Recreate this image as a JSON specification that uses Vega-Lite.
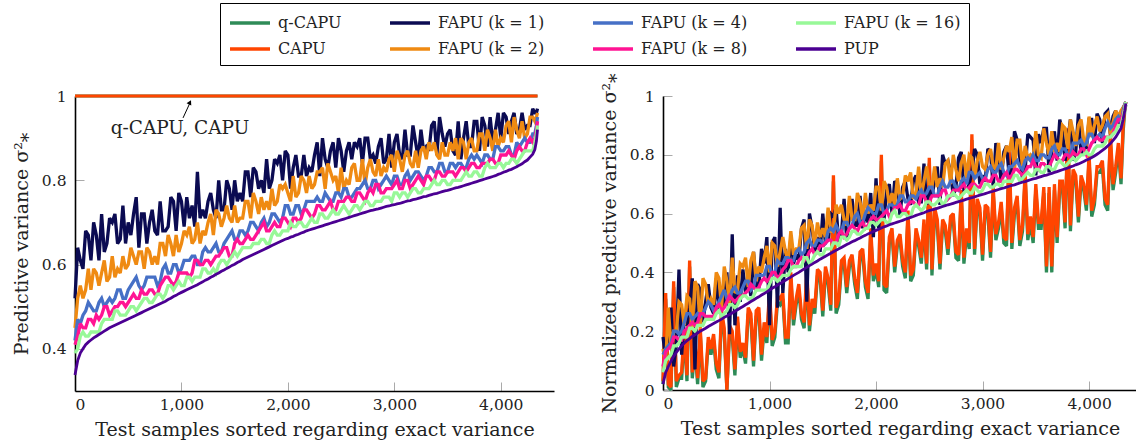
{
"$schema": "https://vega.github.io/schema/vega-lite/v6.json",
"padding": {"left": 12, "top": 2, "right": 0, "bottom": 0},
"spacing": 46,
"config": {
  "view": {"stroke": null},
  "font": "DejaVu Serif",
  "axis": {"domainColor": "black", "domainWidth": 1.6, "tickColor": "#aaaaaa", "tickWidth": 1, "tickSize": -9, "grid": false,
           "labelFont": "DejaVu Serif", "labelFontSize": 15.5, "labelColor": "#222222", "labelPadding": 18,
           "titleFont": "DejaVu Serif", "titleFontSize": 19, "titleFontWeight": "normal", "titleColor": "#222222"},
  "axisX": {"titlePadding": 8, "labelPadding": 15},
  "axisY": {"titlePadding": 10},
  "legend": {"orient": "none", "legendX": 145, "legendY": -93, "columns": 4, "title": null,
             "symbolType": "M-1,0H3", "symbolSize": 400, "symbolStrokeWidth": 3.5,
             "labelFont": "DejaVu Serif", "labelFontSize": 16, "labelColor": "#222222", "labelOffset": 26, "labelLimit": 300,
             "columnPadding": 41, "rowPadding": 6, "padding": 8, "strokeColor": "black"}
},
"datasets": {
"K": [{"x":0,"s":"Q","v":1},{"x":4345,"s":"Q","v":1},{"x":0,"s":"C","v":1},{"x":4345,"s":"C","v":1}],
"L": [
{"x":0,"P":0.338,"a":0.39,"b":0.41,"c":0.42,"d":0.45,"e":0.52},
{"x":25,"P":0.372,"a":0.40,"b":0.43,"c":0.47,"d":0.52,"e":0.64},
{"x":50,"P":0.39,"a":0.43,"b":0.46,"c":0.46,"d":0.55,"e":0.61},
{"x":100,"P":0.41,"a":0.43,"b":0.45,"c":0.49,"d":0.54,"e":0.68},
{"x":150,"P":0.421,"a":0.44,"b":0.47,"c":0.50,"d":0.54,"e":0.61},
{"x":200,"P":0.43,"a":0.44,"b":0.48,"c":0.49,"d":0.58,"e":0.67},
{"x":250,"P":0.438,"a":0.46,"b":0.48,"c":0.52,"d":0.58,"e":0.72},
{"x":300,"P":0.446,"a":0.47,"b":0.50,"c":0.51,"d":0.56,"e":0.65},
{"x":350,"P":0.453,"a":0.47,"b":0.49,"c":0.51,"d":0.62,"e":0.70},
{"x":400,"P":0.459,"a":0.49,"b":0.50,"c":0.54,"d":0.59,"e":0.65},
{"x":450,"P":0.465,"a":0.48,"b":0.51,"c":0.52,"d":0.62,"e":0.74},
{"x":500,"P":0.471,"a":0.49,"b":0.51,"c":0.54,"d":0.60,"e":0.70},
{"x":550,"P":0.477,"a":0.50,"b":0.53,"c":0.56,"d":0.62,"e":0.72},
{"x":600,"P":0.483,"a":0.50,"b":0.52,"c":0.55,"d":0.63,"e":0.64},
{"x":650,"P":0.489,"a":0.52,"b":0.53,"c":0.55,"d":0.59,"e":0.72},
{"x":700,"P":0.495,"a":0.51,"b":0.54,"c":0.57,"d":0.63,"e":0.70},
{"x":750,"P":0.501,"a":0.52,"b":0.53,"c":0.57,"d":0.62,"e":0.68},
{"x":800,"P":0.507,"a":0.53,"b":0.55,"c":0.56,"d":0.65,"e":0.75},
{"x":850,"P":0.513,"a":0.53,"b":0.57,"c":0.60,"d":0.62,"e":0.68},
{"x":900,"P":0.52,"a":0.55,"b":0.56,"c":0.58,"d":0.65,"e":0.76},
{"x":950,"P":0.527,"a":0.55,"b":0.56,"c":0.60,"d":0.67,"e":0.68},
{"x":1000,"P":0.534,"a":0.55,"b":0.58,"c":0.59,"d":0.65,"e":0.75},
{"x":1050,"P":0.54,"a":0.57,"b":0.58,"c":0.61,"d":0.67,"e":0.76},
{"x":1100,"P":0.546,"a":0.56,"b":0.58,"c":0.62,"d":0.65,"e":0.74},
{"x":1150,"P":0.552,"a":0.57,"b":0.61,"c":0.60,"d":0.70,"e":0.82},
{"x":1200,"P":0.559,"a":0.59,"b":0.60,"c":0.63,"d":0.68,"e":0.73},
{"x":1250,"P":0.566,"a":0.58,"b":0.61,"c":0.63,"d":0.70,"e":0.75},
{"x":1300,"P":0.573,"a":0.59,"b":0.61,"c":0.64,"d":0.67,"e":0.73},
{"x":1350,"P":0.58,"a":0.60,"b":0.62,"c":0.63,"d":0.72,"e":0.80},
{"x":1400,"P":0.587,"a":0.61,"b":0.64,"c":0.65,"d":0.71,"e":0.73},
{"x":1450,"P":0.594,"a":0.61,"b":0.62,"c":0.67,"d":0.71,"e":0.78},
{"x":1500,"P":0.601,"a":0.63,"b":0.65,"c":0.66,"d":0.74,"e":0.80},
{"x":1550,"P":0.608,"a":0.63,"b":0.65,"c":0.68,"d":0.71,"e":0.77},
{"x":1600,"P":0.615,"a":0.64,"b":0.66,"c":0.67,"d":0.75,"e":0.82},
{"x":1650,"P":0.621,"a":0.64,"b":0.66,"c":0.70,"d":0.71,"e":0.76},
{"x":1700,"P":0.627,"a":0.65,"b":0.67,"c":0.69,"d":0.75,"e":0.82},
{"x":1750,"P":0.633,"a":0.66,"b":0.69,"c":0.70,"d":0.76,"e":0.80},
{"x":1800,"P":0.639,"a":0.65,"b":0.68,"c":0.69,"d":0.75,"e":0.85},
{"x":1850,"P":0.645,"a":0.67,"b":0.69,"c":0.72,"d":0.78,"e":0.80},
{"x":1900,"P":0.651,"a":0.67,"b":0.69,"c":0.71,"d":0.75,"e":0.84},
{"x":1950,"P":0.657,"a":0.68,"b":0.71,"c":0.71,"d":0.78,"e":0.80},
{"x":2000,"P":0.662,"a":0.68,"b":0.70,"c":0.74,"d":0.77,"e":0.86},
{"x":2050,"P":0.667,"a":0.69,"b":0.71,"c":0.72,"d":0.81,"e":0.83},
{"x":2100,"P":0.672,"a":0.70,"b":0.70,"c":0.74,"d":0.77,"e":0.81},
{"x":2150,"P":0.677,"a":0.69,"b":0.73,"c":0.73,"d":0.80,"e":0.86},
{"x":2200,"P":0.682,"a":0.70,"b":0.72,"c":0.75,"d":0.81,"e":0.83},
{"x":2250,"P":0.686,"a":0.70,"b":0.72,"c":0.75,"d":0.79,"e":0.86},
{"x":2300,"P":0.69,"a":0.72,"b":0.74,"c":0.75,"d":0.82,"e":0.81},
{"x":2350,"P":0.694,"a":0.71,"b":0.73,"c":0.77,"d":0.78,"e":0.85},
{"x":2400,"P":0.698,"a":0.72,"b":0.75,"c":0.75,"d":0.82,"e":0.87},
{"x":2450,"P":0.702,"a":0.72,"b":0.73,"c":0.77,"d":0.81,"e":0.83},
{"x":2500,"P":0.706,"a":0.73,"b":0.75,"c":0.76,"d":0.83,"e":0.87},
{"x":2550,"P":0.71,"a":0.73,"b":0.76,"c":0.78,"d":0.80,"e":0.87},
{"x":2600,"P":0.714,"a":0.73,"b":0.75,"c":0.76,"d":0.83,"e":0.85},
{"x":2650,"P":0.718,"a":0.74,"b":0.77,"c":0.78,"d":0.80,"e":0.88},
{"x":2700,"P":0.722,"a":0.74,"b":0.76,"c":0.79,"d":0.85,"e":0.84},
{"x":2750,"P":0.726,"a":0.75,"b":0.77,"c":0.78,"d":0.83,"e":0.90},
{"x":2800,"P":0.729,"a":0.74,"b":0.77,"c":0.80,"d":0.82,"e":0.86},
{"x":2850,"P":0.732,"a":0.75,"b":0.79,"c":0.78,"d":0.85,"e":0.88},
{"x":2900,"P":0.736,"a":0.76,"b":0.77,"c":0.80,"d":0.83,"e":0.84},
{"x":2950,"P":0.739,"a":0.76,"b":0.78,"c":0.80,"d":0.85,"e":0.91},
{"x":3000,"P":0.742,"a":0.77,"b":0.79,"c":0.81,"d":0.82,"e":0.89},
{"x":3050,"P":0.745,"a":0.76,"b":0.78,"c":0.79,"d":0.85,"e":0.86},
{"x":3100,"P":0.749,"a":0.77,"b":0.80,"c":0.81,"d":0.86,"e":0.92},
{"x":3150,"P":0.752,"a":0.77,"b":0.78,"c":0.80,"d":0.84,"e":0.86},
{"x":3200,"P":0.755,"a":0.78,"b":0.80,"c":0.82,"d":0.87,"e":0.89},
{"x":3250,"P":0.759,"a":0.77,"b":0.80,"c":0.81,"d":0.87,"e":0.92},
{"x":3300,"P":0.762,"a":0.78,"b":0.81,"c":0.81,"d":0.85,"e":0.88},
{"x":3350,"P":0.766,"a":0.79,"b":0.80,"c":0.83,"d":0.87,"e":0.93},
{"x":3400,"P":0.769,"a":0.79,"b":0.82,"c":0.82,"d":0.86,"e":0.86},
{"x":3450,"P":0.773,"a":0.80,"b":0.81,"c":0.84,"d":0.89,"e":0.91},
{"x":3500,"P":0.776,"a":0.79,"b":0.82,"c":0.82,"d":0.86,"e":0.91},
{"x":3550,"P":0.78,"a":0.80,"b":0.82,"c":0.84,"d":0.87,"e":0.87},
{"x":3600,"P":0.783,"a":0.80,"b":0.82,"c":0.84,"d":0.85,"e":0.94},
{"x":3650,"P":0.787,"a":0.81,"b":0.83,"c":0.83,"d":0.89,"e":0.90},
{"x":3700,"P":0.791,"a":0.81,"b":0.83,"c":0.85,"d":0.89,"e":0.88},
{"x":3750,"P":0.795,"a":0.82,"b":0.84,"c":0.85,"d":0.87,"e":0.94},
{"x":3800,"P":0.799,"a":0.81,"b":0.83,"c":0.85,"d":0.91,"e":0.87},
{"x":3850,"P":0.803,"a":0.83,"b":0.84,"c":0.86,"d":0.87,"e":0.93},
{"x":3900,"P":0.807,"a":0.83,"b":0.85,"c":0.85,"d":0.90,"e":0.95},
{"x":3950,"P":0.811,"a":0.83,"b":0.84,"c":0.88,"d":0.92,"e":0.92},
{"x":4000,"P":0.816,"a":0.84,"b":0.86,"c":0.87,"d":0.90,"e":0.90},
{"x":4050,"P":0.821,"a":0.84,"b":0.86,"c":0.88,"d":0.93,"e":0.95},
{"x":4100,"P":0.826,"a":0.85,"b":0.86,"c":0.86,"d":0.89,"e":0.94},
{"x":4150,"P":0.832,"a":0.84,"b":0.87,"c":0.89,"d":0.92,"e":0.91},
{"x":4200,"P":0.839,"a":0.86,"b":0.87,"c":0.89,"d":0.94,"e":0.96},
{"x":4250,"P":0.848,"a":0.87,"b":0.89,"c":0.89,"d":0.91,"e":0.93},
{"x":4300,"P":0.862,"a":0.87,"b":0.89,"c":0.91,"d":0.95,"e":0.97},
{"x":4320,"P":0.873,"a":0.89,"b":0.90,"c":0.91,"d":0.94,"e":0.96},
{"x":4335,"P":0.893,"a":0.91,"b":0.92,"c":0.93,"d":0.95,"e":0.96},
{"x":4345,"P":0.92,"a":0.93,"b":0.94,"c":0.95,"d":0.96,"e":0.97},
{"x":75,"P":0.40,"a":0.44,"b":0.45,"c":0.48,"d":0.52,"e":0.59},
{"x":125,"P":0.416,"a":0.43,"b":0.47,"c":0.51,"d":0.59,"e":0.67},
{"x":175,"P":0.426,"a":0.44,"b":0.46,"c":0.49,"d":0.59,"e":0.70},
{"x":225,"P":0.434,"a":0.44,"b":0.47,"c":0.51,"d":0.55,"e":0.61},
{"x":275,"P":0.442,"a":0.47,"b":0.50,"c":0.50,"d":0.61,"e":0.63},
{"x":325,"P":0.45,"a":0.47,"b":0.48,"c":0.52,"d":0.57,"e":0.71},
{"x":375,"P":0.456,"a":0.49,"b":0.50,"c":0.52,"d":0.57,"e":0.72},
{"x":425,"P":0.462,"a":0.48,"b":0.51,"c":0.54,"d":0.58,"e":0.66},
{"x":475,"P":0.468,"a":0.48,"b":0.50,"c":0.52,"d":0.59,"e":0.65},
{"x":525,"P":0.474,"a":0.50,"b":0.52,"c":0.55,"d":0.64,"e":0.67},
{"x":575,"P":0.48,"a":0.49,"b":0.52,"c":0.57,"d":0.60,"e":0.76},
{"x":625,"P":0.486,"a":0.51,"b":0.54,"c":0.54,"d":0.63,"e":0.72},
{"x":675,"P":0.492,"a":0.52,"b":0.53,"c":0.57,"d":0.64,"e":0.65},
{"x":725,"P":0.498,"a":0.51,"b":0.54,"c":0.57,"d":0.60,"e":0.73},
{"x":775,"P":0.504,"a":0.53,"b":0.53,"c":0.55,"d":0.60,"e":0.67},
{"x":825,"P":0.51,"a":0.52,"b":0.56,"c":0.59,"d":0.65,"e":0.68},
{"x":875,"P":0.517,"a":0.55,"b":0.57,"c":0.58,"d":0.67,"e":0.69},
{"x":925,"P":0.524,"a":0.54,"b":0.55,"c":0.60,"d":0.62,"e":0.75},
{"x":975,"P":0.531,"a":0.56,"b":0.58,"c":0.58,"d":0.63,"e":0.77},
{"x":1025,"P":0.537,"a":0.55,"b":0.58,"c":0.61,"d":0.68,"e":0.69},
{"x":1075,"P":0.543,"a":0.57,"b":0.57,"c":0.61,"d":0.69,"e":0.71},
{"x":1125,"P":0.549,"a":0.57,"b":0.61,"c":0.62,"d":0.66,"e":0.69},
{"x":1175,"P":0.556,"a":0.57,"b":0.60,"c":0.60,"d":0.65,"e":0.71},
{"x":1225,"P":0.563,"a":0.59,"b":0.61,"c":0.64,"d":0.67,"e":0.71},
{"x":1275,"P":0.57,"a":0.58,"b":0.60,"c":0.63,"d":0.72,"e":0.77},
{"x":1325,"P":0.577,"a":0.58,"b":0.62,"c":0.65,"d":0.73,"e":0.71},
{"x":1375,"P":0.584,"a":0.61,"b":0.63,"c":0.63,"d":0.69,"e":0.73},
{"x":1425,"P":0.591,"a":0.60,"b":0.64,"c":0.66,"d":0.74,"e":0.80},
{"x":1475,"P":0.598,"a":0.62,"b":0.62,"c":0.68,"d":0.70,"e":0.73},
{"x":1525,"P":0.605,"a":0.62,"b":0.66,"c":0.66,"d":0.70,"e":0.75},
{"x":1575,"P":0.612,"a":0.64,"b":0.65,"c":0.68,"d":0.71,"e":0.75},
{"x":1625,"P":0.618,"a":0.64,"b":0.67,"c":0.68,"d":0.75,"e":0.82},
{"x":1675,"P":0.624,"a":0.65,"b":0.66,"c":0.70,"d":0.77,"e":0.83},
{"x":1725,"P":0.63,"a":0.65,"b":0.68,"c":0.68,"d":0.72,"e":0.78},
{"x":1775,"P":0.636,"a":0.66,"b":0.70,"c":0.71,"d":0.73,"e":0.77},
{"x":1825,"P":0.642,"a":0.65,"b":0.68,"c":0.70,"d":0.73,"e":0.78},
{"x":1875,"P":0.648,"a":0.68,"b":0.70,"c":0.72,"d":0.74,"e":0.85},
{"x":1925,"P":0.654,"a":0.67,"b":0.69,"c":0.70,"d":0.79,"e":0.86},
{"x":1975,"P":0.66,"a":0.68,"b":0.71,"c":0.74,"d":0.79,"e":0.87},
{"x":2025,"P":0.665,"a":0.70,"b":0.69,"c":0.72,"d":0.75,"e":0.78},
{"x":2075,"P":0.67,"a":0.69,"b":0.71,"c":0.74,"d":0.76,"e":0.86},
{"x":2125,"P":0.675,"a":0.70,"b":0.71,"c":0.72,"d":0.81,"e":0.81},
{"x":2175,"P":0.68,"a":0.69,"b":0.73,"c":0.75,"d":0.77,"e":0.81},
{"x":2225,"P":0.684,"a":0.71,"b":0.71,"c":0.75,"d":0.78,"e":0.82},
{"x":2275,"P":0.688,"a":0.70,"b":0.74,"c":0.76,"d":0.82,"e":0.89},
{"x":2325,"P":0.692,"a":0.72,"b":0.73,"c":0.75,"d":0.83,"e":0.90},
{"x":2375,"P":0.696,"a":0.71,"b":0.74,"c":0.76,"d":0.84,"e":0.83},
{"x":2425,"P":0.70,"a":0.73,"b":0.73,"c":0.75,"d":0.80,"e":0.89},
{"x":2475,"P":0.704,"a":0.72,"b":0.75,"c":0.77,"d":0.77,"e":0.90},
{"x":2525,"P":0.708,"a":0.74,"b":0.75,"c":0.78,"d":0.78,"e":0.82},
{"x":2575,"P":0.712,"a":0.72,"b":0.76,"c":0.76,"d":0.79,"e":0.89},
{"x":2625,"P":0.716,"a":0.74,"b":0.75,"c":0.77,"d":0.84,"e":0.89},
{"x":2675,"P":0.72,"a":0.73,"b":0.77,"c":0.78,"d":0.80,"e":0.90},
{"x":2725,"P":0.724,"a":0.75,"b":0.75,"c":0.80,"d":0.79,"e":0.90},
{"x":2775,"P":0.728,"a":0.74,"b":0.78,"c":0.78,"d":0.85,"e":0.85},
{"x":2825,"P":0.731,"a":0.75,"b":0.79,"c":0.80,"d":0.81,"e":0.84},
{"x":2875,"P":0.734,"a":0.75,"b":0.77,"c":0.79,"d":0.81,"e":0.90},
{"x":2925,"P":0.738,"a":0.76,"b":0.78,"c":0.81,"d":0.82,"e":0.85},
{"x":2975,"P":0.741,"a":0.75,"b":0.78,"c":0.79,"d":0.86,"e":0.83},
{"x":3025,"P":0.744,"a":0.77,"b":0.80,"c":0.81,"d":0.87,"e":0.91},
{"x":3075,"P":0.747,"a":0.77,"b":0.78,"c":0.79,"d":0.82,"e":0.85},
{"x":3125,"P":0.751,"a":0.76,"b":0.80,"c":0.82,"d":0.87,"e":0.86},
{"x":3175,"P":0.754,"a":0.78,"b":0.79,"c":0.81,"d":0.83,"e":0.93},
{"x":3225,"P":0.757,"a":0.77,"b":0.81,"c":0.82,"d":0.83,"e":0.85},
{"x":3275,"P":0.761,"a":0.78,"b":0.79,"c":0.80,"d":0.88,"e":0.87},
{"x":3325,"P":0.764,"a":0.78,"b":0.81,"c":0.83,"d":0.89,"e":0.87},
{"x":3375,"P":0.768,"a":0.80,"b":0.80,"c":0.82,"d":0.89,"e":0.94},
{"x":3425,"P":0.771,"a":0.79,"b":0.82,"c":0.84,"d":0.85,"e":0.95},
{"x":3475,"P":0.775,"a":0.80,"b":0.81,"c":0.82,"d":0.86,"e":0.88},
{"x":3525,"P":0.778,"a":0.79,"b":0.82,"c":0.84,"d":0.89,"e":0.92},
{"x":3575,"P":0.782,"a":0.80,"b":0.81,"c":0.83,"d":0.90,"e":0.86},
{"x":3625,"P":0.785,"a":0.80,"b":0.83,"c":0.84,"d":0.90,"e":0.85},
{"x":3675,"P":0.789,"a":0.82,"b":0.82,"c":0.83,"d":0.85,"e":0.94},
{"x":3725,"P":0.793,"a":0.81,"b":0.84,"c":0.86,"d":0.90,"e":0.88},
{"x":3775,"P":0.797,"a":0.82,"b":0.83,"c":0.86,"d":0.87,"e":0.94},
{"x":3825,"P":0.801,"a":0.81,"b":0.84,"c":0.84,"d":0.91,"e":0.95},
{"x":3875,"P":0.805,"a":0.84,"b":0.84,"c":0.86,"d":0.92,"e":0.88},
{"x":3925,"P":0.809,"a":0.83,"b":0.85,"c":0.85,"d":0.87,"e":0.89},
{"x":3975,"P":0.814,"a":0.84,"b":0.84,"c":0.88,"d":0.88,"e":0.96},
{"x":4025,"P":0.819,"a":0.83,"b":0.86,"c":0.87,"d":0.89,"e":0.96},
{"x":4075,"P":0.824,"a":0.84,"b":0.87,"c":0.88,"d":0.94,"e":0.91},
{"x":4125,"P":0.829,"a":0.85,"b":0.85,"c":0.86,"d":0.95,"e":0.96},
{"x":4175,"P":0.836,"a":0.85,"b":0.88,"c":0.88,"d":0.90,"e":0.92},
{"x":4225,"P":0.844,"a":0.87,"b":0.87,"c":0.90,"d":0.90,"e":0.92},
{"x":4275,"P":0.855,"a":0.87,"b":0.90,"c":0.89,"d":0.95,"e":0.93}
],
"R": [
{"x":0,"P":0.02,"a":0.06,"b":0.08,"c":0.12,"d":0.14,"e":0.18,"C":0.03,"Q":0.02},
{"x":25,"P":0.06,"a":0.10,"b":0.13,"c":0.14,"d":0.09,"e":0.11,"C":0.33,"Q":0.31},
{"x":50,"P":0.08,"a":0.11,"b":0.14,"c":0.15,"d":0.28,"e":0.20,"C":0.02,"Q":0.01},
{"x":100,"P":0.115,"a":0.15,"b":0.18,"c":0.20,"d":0.20,"e":0.08,"C":0.37,"Q":0.35},
{"x":150,"P":0.14,"a":0.16,"b":0.17,"c":0.19,"d":0.30,"e":0.41,"C":0.05,"Q":0.04},
{"x":200,"P":0.16,"a":0.18,"b":0.20,"c":0.23,"d":0.22,"e":0.24,"C":0.21,"Q":0.19},
{"x":250,"P":0.175,"a":0.21,"b":0.22,"c":0.26,"d":0.31,"e":0.28,"C":0.44,"Q":0.42},
{"x":300,"P":0.188,"a":0.20,"b":0.22,"c":0.25,"d":0.37,"e":0.07,"C":0.16,"Q":0.14},
{"x":350,"P":0.20,"a":0.22,"b":0.26,"c":0.25,"d":0.21,"e":0.34,"C":0.21,"Q":0.19},
{"x":400,"P":0.21,"a":0.24,"b":0.25,"c":0.28,"d":0.36,"e":0.30,"C":0.04,"Q":0.03},
{"x":450,"P":0.221,"a":0.24,"b":0.25,"c":0.29,"d":0.31,"e":0.28,"C":0.14,"Q":0.12},
{"x":500,"P":0.231,"a":0.26,"b":0.28,"c":0.28,"d":0.40,"e":0.38,"C":0.09,"Q":0.07},
{"x":550,"P":0.241,"a":0.25,"b":0.27,"c":0.32,"d":0.28,"e":0.29,"C":0.27,"Q":0.25},
{"x":600,"P":0.252,"a":0.27,"b":0.30,"c":0.31,"d":0.37,"e":0.40,"C":0.0,"Q":0.0},
{"x":650,"P":0.262,"a":0.29,"b":0.31,"c":0.34,"d":0.45,"e":0.53,"C":0.20,"Q":0.18},
{"x":700,"P":0.273,"a":0.29,"b":0.31,"c":0.33,"d":0.34,"e":0.39,"C":0.25,"Q":0.23},
{"x":750,"P":0.284,"a":0.32,"b":0.32,"c":0.35,"d":0.42,"e":0.41,"C":0.16,"Q":0.14},
{"x":800,"P":0.295,"a":0.31,"b":0.34,"c":0.37,"d":0.35,"e":0.37,"C":0.28,"Q":0.26},
{"x":850,"P":0.306,"a":0.32,"b":0.35,"c":0.35,"d":0.47,"e":0.47,"C":0.10,"Q":0.08},
{"x":900,"P":0.317,"a":0.34,"b":0.35,"c":0.39,"d":0.42,"e":0.35,"C":0.28,"Q":0.26},
{"x":950,"P":0.328,"a":0.34,"b":0.38,"c":0.39,"d":0.45,"e":0.43,"C":0.23,"Q":0.21},
{"x":1000,"P":0.34,"a":0.36,"b":0.38,"c":0.42,"d":0.40,"e":0.22,"C":0.34,"Q":0.32},
{"x":1050,"P":0.351,"a":0.38,"b":0.40,"c":0.40,"d":0.49,"e":0.52,"C":0.20,"Q":0.18},
{"x":1100,"P":0.362,"a":0.38,"b":0.39,"c":0.43,"d":0.47,"e":0.62,"C":0.31,"Q":0.29},
{"x":1150,"P":0.373,"a":0.39,"b":0.42,"c":0.45,"d":0.47,"e":0.48,"C":0.18,"Q":0.16},
{"x":1200,"P":0.384,"a":0.41,"b":0.44,"c":0.44,"d":0.54,"e":0.52,"C":0.40,"Q":0.38},
{"x":1250,"P":0.395,"a":0.42,"b":0.42,"c":0.47,"d":0.48,"e":0.46,"C":0.31,"Q":0.29},
{"x":1300,"P":0.406,"a":0.42,"b":0.45,"c":0.46,"d":0.55,"e":0.55,"C":0.26,"Q":0.24},
{"x":1350,"P":0.417,"a":0.45,"b":0.45,"c":0.50,"d":0.48,"e":0.30,"C":0.41,"Q":0.39},
{"x":1400,"P":0.428,"a":0.44,"b":0.48,"c":0.49,"d":0.56,"e":0.55,"C":0.31,"Q":0.29},
{"x":1450,"P":0.439,"a":0.47,"b":0.47,"c":0.51,"d":0.57,"e":0.52,"C":0.41,"Q":0.39},
{"x":1500,"P":0.45,"a":0.46,"b":0.49,"c":0.50,"d":0.55,"e":0.60,"C":0.27,"Q":0.25},
{"x":1550,"P":0.46,"a":0.48,"b":0.51,"c":0.54,"d":0.62,"e":0.51,"C":0.38,"Q":0.36},
{"x":1600,"P":0.47,"a":0.50,"b":0.50,"c":0.54,"d":0.54,"e":0.59,"C":0.73,"Q":0.71},
{"x":1650,"P":0.48,"a":0.49,"b":0.53,"c":0.54,"d":0.60,"e":0.50,"C":0.31,"Q":0.29},
{"x":1700,"P":0.49,"a":0.52,"b":0.52,"c":0.57,"d":0.58,"e":0.65,"C":0.45,"Q":0.43},
{"x":1750,"P":0.499,"a":0.52,"b":0.55,"c":0.55,"d":0.66,"e":0.59,"C":0.44,"Q":0.42},
{"x":1800,"P":0.508,"a":0.54,"b":0.55,"c":0.59,"d":0.58,"e":0.56,"C":0.38,"Q":0.36},
{"x":1850,"P":0.517,"a":0.53,"b":0.56,"c":0.57,"d":0.64,"e":0.66,"C":0.47,"Q":0.45},
{"x":1900,"P":0.526,"a":0.55,"b":0.55,"c":0.60,"d":0.67,"e":0.60,"C":0.37,"Q":0.35},
{"x":1950,"P":0.535,"a":0.57,"b":0.58,"c":0.61,"d":0.63,"e":0.67,"C":0.55,"Q":0.53},
{"x":2000,"P":0.543,"a":0.56,"b":0.58,"c":0.60,"d":0.69,"e":0.72,"C":0.43,"Q":0.41},
{"x":2050,"P":0.551,"a":0.58,"b":0.59,"c":0.63,"d":0.61,"e":0.65,"C":0.80,"Q":0.78},
{"x":2100,"P":0.558,"a":0.57,"b":0.61,"c":0.61,"d":0.69,"e":0.68,"C":0.35,"Q":0.33},
{"x":2150,"P":0.565,"a":0.60,"b":0.60,"c":0.63,"d":0.67,"e":0.60,"C":0.55,"Q":0.53},
{"x":2200,"P":0.571,"a":0.59,"b":0.62,"c":0.63,"d":0.72,"e":0.70,"C":0.51,"Q":0.49},
{"x":2250,"P":0.577,"a":0.60,"b":0.61,"c":0.66,"d":0.66,"e":0.69,"C":0.44,"Q":0.42},
{"x":2300,"P":0.584,"a":0.59,"b":0.63,"c":0.64,"d":0.71,"e":0.65,"C":0.61,"Q":0.59},
{"x":2350,"P":0.59,"a":0.62,"b":0.64,"c":0.66,"d":0.65,"e":0.71,"C":0.41,"Q":0.39},
{"x":2400,"P":0.597,"a":0.62,"b":0.63,"c":0.67,"d":0.76,"e":0.64,"C":0.51,"Q":0.49},
{"x":2450,"P":0.603,"a":0.62,"b":0.66,"c":0.66,"d":0.71,"e":0.77,"C":0.58,"Q":0.56},
{"x":2500,"P":0.61,"a":0.64,"b":0.64,"c":0.69,"d":0.70,"e":0.68,"C":0.79,"Q":0.77},
{"x":2550,"P":0.615,"a":0.63,"b":0.66,"c":0.66,"d":0.76,"e":0.71,"C":0.62,"Q":0.60},
{"x":2600,"P":0.621,"a":0.65,"b":0.66,"c":0.69,"d":0.72,"e":0.63,"C":0.43,"Q":0.41},
{"x":2650,"P":0.627,"a":0.64,"b":0.68,"c":0.69,"d":0.77,"e":0.77,"C":0.56,"Q":0.54},
{"x":2700,"P":0.632,"a":0.66,"b":0.66,"c":0.71,"d":0.70,"e":0.74,"C":0.59,"Q":0.57},
{"x":2750,"P":0.638,"a":0.66,"b":0.68,"c":0.69,"d":0.75,"e":0.69,"C":0.47,"Q":0.45},
{"x":2800,"P":0.643,"a":0.66,"b":0.69,"c":0.71,"d":0.77,"e":0.81,"C":0.68,"Q":0.66},
{"x":2850,"P":0.649,"a":0.68,"b":0.68,"c":0.70,"d":0.72,"e":0.68,"C":0.55,"Q":0.53},
{"x":2900,"P":0.654,"a":0.67,"b":0.70,"c":0.74,"d":0.79,"e":0.74,"C":0.87,"Q":0.85},
{"x":2950,"P":0.66,"a":0.68,"b":0.69,"c":0.73,"d":0.78,"e":0.80,"C":0.65,"Q":0.63},
{"x":3000,"P":0.665,"a":0.68,"b":0.71,"c":0.72,"d":0.76,"e":0.73,"C":0.46,"Q":0.44},
{"x":3050,"P":0.671,"a":0.70,"b":0.71,"c":0.75,"d":0.80,"e":0.82,"C":0.62,"Q":0.60},
{"x":3100,"P":0.676,"a":0.69,"b":0.73,"c":0.74,"d":0.76,"e":0.69,"C":0.69,"Q":0.67},
{"x":3150,"P":0.682,"a":0.70,"b":0.71,"c":0.76,"d":0.84,"e":0.79,"C":0.57,"Q":0.55},
{"x":3200,"P":0.687,"a":0.71,"b":0.73,"c":0.74,"d":0.79,"e":0.81,"C":0.52,"Q":0.50},
{"x":3250,"P":0.693,"a":0.71,"b":0.72,"c":0.76,"d":0.81,"e":0.73,"C":0.82,"Q":0.80},
{"x":3300,"P":0.698,"a":0.73,"b":0.75,"c":0.77,"d":0.75,"e":0.88,"C":0.62,"Q":0.60},
{"x":3350,"P":0.704,"a":0.71,"b":0.74,"c":0.76,"d":0.85,"e":0.79,"C":0.51,"Q":0.49},
{"x":3400,"P":0.709,"a":0.73,"b":0.74,"c":0.78,"d":0.83,"e":0.75,"C":0.74,"Q":0.72},
{"x":3450,"P":0.715,"a":0.73,"b":0.76,"c":0.78,"d":0.80,"e":0.86,"C":0.59,"Q":0.57},
{"x":3500,"P":0.72,"a":0.75,"b":0.76,"c":0.78,"d":0.88,"e":0.73,"C":0.70,"Q":0.68},
{"x":3550,"P":0.726,"a":0.74,"b":0.77,"c":0.80,"d":0.79,"e":0.84,"C":0.57,"Q":0.55},
{"x":3600,"P":0.731,"a":0.76,"b":0.76,"c":0.79,"d":0.84,"e":0.89,"C":0.42,"Q":0.40},
{"x":3650,"P":0.737,"a":0.75,"b":0.78,"c":0.82,"d":0.88,"e":0.81,"C":0.42,"Q":0.40},
{"x":3700,"P":0.743,"a":0.77,"b":0.79,"c":0.80,"d":0.84,"e":0.78,"C":0.52,"Q":0.50},
{"x":3750,"P":0.749,"a":0.77,"b":0.78,"c":0.82,"d":0.90,"e":0.88,"C":0.71,"Q":0.69},
{"x":3800,"P":0.755,"a":0.77,"b":0.80,"c":0.80,"d":0.82,"e":0.85,"C":0.89,"Q":0.87},
{"x":3850,"P":0.762,"a":0.79,"b":0.81,"c":0.84,"d":0.88,"e":0.78,"C":0.75,"Q":0.73},
{"x":3900,"P":0.769,"a":0.79,"b":0.80,"c":0.84,"d":0.90,"e":0.94,"C":0.59,"Q":0.57},
{"x":3950,"P":0.777,"a":0.80,"b":0.82,"c":0.83,"d":0.85,"e":0.84,"C":0.70,"Q":0.68},
{"x":4000,"P":0.786,"a":0.80,"b":0.82,"c":0.87,"d":0.93,"e":0.92,"C":0.80,"Q":0.78},
{"x":4050,"P":0.796,"a":0.82,"b":0.85,"c":0.85,"d":0.90,"e":0.84,"C":0.65,"Q":0.63},
{"x":4100,"P":0.808,"a":0.83,"b":0.85,"c":0.87,"d":0.88,"e":0.92,"C":0.76,"Q":0.74},
{"x":4150,"P":0.822,"a":0.84,"b":0.86,"c":0.89,"d":0.93,"e":0.94,"C":0.65,"Q":0.63},
{"x":4200,"P":0.838,"a":0.86,"b":0.86,"c":0.89,"d":0.87,"e":0.87,"C":0.87,"Q":0.85},
{"x":4250,"P":0.86,"a":0.88,"b":0.90,"c":0.92,"d":0.95,"e":0.95,"C":0.76,"Q":0.74},
{"x":4300,"P":0.89,"a":0.90,"b":0.92,"c":0.91,"d":0.95,"e":0.93,"C":0.72,"Q":0.70},
{"x":4320,"P":0.92,"a":0.93,"b":0.94,"c":0.95,"d":0.96,"e":0.96,"C":0.90,"Q":0.88},
{"x":4335,"P":0.95,"a":0.96,"b":0.96,"c":0.97,"d":0.97,"e":0.97,"C":0.96,"Q":0.95},
{"x":4345,"P":0.975,"a":0.98,"b":0.98,"c":0.98,"d":0.98,"e":0.98,"C":0.98,"Q":0.97},
{"x":75,"P":0.098,"a":0.12,"b":0.15,"c":0.16,"d":0.15,"e":0.28,"C":0.01,"Q":0.0},
{"x":125,"P":0.128,"a":0.15,"b":0.18,"c":0.20,"d":0.20,"e":0.15,"C":0.03,"Q":0.01},
{"x":175,"P":0.15,"a":0.18,"b":0.17,"c":0.20,"d":0.29,"e":0.12,"C":0.06,"Q":0.04},
{"x":225,"P":0.168,"a":0.18,"b":0.21,"c":0.26,"d":0.32,"e":0.22,"C":0.05,"Q":0.03},
{"x":275,"P":0.182,"a":0.21,"b":0.23,"c":0.24,"d":0.21,"e":0.38,"C":0.06,"Q":0.04},
{"x":325,"P":0.194,"a":0.22,"b":0.23,"c":0.26,"d":0.35,"e":0.36,"C":0.04,"Q":0.02},
{"x":375,"P":0.205,"a":0.22,"b":0.26,"c":0.26,"d":0.38,"e":0.23,"C":0.03,"Q":0.01},
{"x":425,"P":0.216,"a":0.24,"b":0.25,"c":0.30,"d":0.29,"e":0.36,"C":0.18,"Q":0.16},
{"x":475,"P":0.226,"a":0.24,"b":0.25,"c":0.27,"d":0.29,"e":0.26,"C":0.19,"Q":0.17},
{"x":525,"P":0.236,"a":0.27,"b":0.29,"c":0.30,"d":0.38,"e":0.28,"C":0.06,"Q":0.04},
{"x":575,"P":0.247,"a":0.26,"b":0.28,"c":0.34,"d":0.42,"e":0.29,"C":0.21,"Q":0.19},
{"x":625,"P":0.257,"a":0.29,"b":0.32,"c":0.31,"d":0.29,"e":0.19,"C":0.22,"Q":0.20},
{"x":675,"P":0.268,"a":0.28,"b":0.30,"c":0.35,"d":0.33,"e":0.22,"C":0.07,"Q":0.05},
{"x":725,"P":0.279,"a":0.31,"b":0.32,"c":0.33,"d":0.43,"e":0.30,"C":0.13,"Q":0.11},
{"x":775,"P":0.29,"a":0.32,"b":0.33,"c":0.37,"d":0.45,"e":0.33,"C":0.11,"Q":0.09},
{"x":825,"P":0.301,"a":0.31,"b":0.36,"c":0.34,"d":0.44,"e":0.32,"C":0.26,"Q":0.24},
{"x":875,"P":0.312,"a":0.34,"b":0.34,"c":0.39,"d":0.37,"e":0.35,"C":0.27,"Q":0.25},
{"x":925,"P":0.323,"a":0.34,"b":0.37,"c":0.39,"d":0.40,"e":0.48,"C":0.12,"Q":0.10},
{"x":975,"P":0.334,"a":0.34,"b":0.37,"c":0.42,"d":0.49,"e":0.52,"C":0.18,"Q":0.16},
{"x":1025,"P":0.346,"a":0.38,"b":0.40,"c":0.39,"d":0.50,"e":0.50,"C":0.17,"Q":0.15},
{"x":1075,"P":0.357,"a":0.37,"b":0.38,"c":0.44,"d":0.42,"e":0.28,"C":0.32,"Q":0.30},
{"x":1125,"P":0.368,"a":0.39,"b":0.41,"c":0.43,"d":0.52,"e":0.33,"C":0.33,"Q":0.31},
{"x":1175,"P":0.379,"a":0.39,"b":0.44,"c":0.45,"d":0.44,"e":0.40,"C":0.18,"Q":0.16},
{"x":1225,"P":0.39,"a":0.42,"b":0.42,"c":0.44,"d":0.46,"e":0.43,"C":0.24,"Q":0.22},
{"x":1275,"P":0.40,"a":0.42,"b":0.44,"c":0.48,"d":0.48,"e":0.44,"C":0.36,"Q":0.34},
{"x":1325,"P":0.412,"a":0.45,"b":0.44,"c":0.47,"d":0.56,"e":0.58,"C":0.23,"Q":0.21},
{"x":1375,"P":0.423,"a":0.43,"b":0.47,"c":0.51,"d":0.58,"e":0.60,"C":0.22,"Q":0.20},
{"x":1425,"P":0.434,"a":0.46,"b":0.46,"c":0.49,"d":0.49,"e":0.47,"C":0.28,"Q":0.26},
{"x":1475,"P":0.445,"a":0.46,"b":0.49,"c":0.51,"d":0.52,"e":0.47,"C":0.40,"Q":0.38},
{"x":1525,"P":0.455,"a":0.48,"b":0.50,"c":0.50,"d":0.52,"e":0.50,"C":0.42,"Q":0.40},
{"x":1575,"P":0.465,"a":0.48,"b":0.51,"c":0.55,"d":0.54,"e":0.60,"C":0.29,"Q":0.27},
{"x":1625,"P":0.475,"a":0.50,"b":0.50,"c":0.56,"d":0.63,"e":0.62,"C":0.28,"Q":0.26},
{"x":1675,"P":0.485,"a":0.52,"b":0.54,"c":0.54,"d":0.63,"e":0.53,"C":0.44,"Q":0.42},
{"x":1725,"P":0.495,"a":0.51,"b":0.53,"c":0.57,"d":0.56,"e":0.51,"C":0.35,"Q":0.33},
{"x":1775,"P":0.504,"a":0.54,"b":0.56,"c":0.56,"d":0.58,"e":0.65,"C":0.46,"Q":0.44},
{"x":1825,"P":0.513,"a":0.53,"b":0.54,"c":0.60,"d":0.67,"e":0.56,"C":0.33,"Q":0.31},
{"x":1875,"P":0.522,"a":0.54,"b":0.57,"c":0.57,"d":0.58,"e":0.55,"C":0.48,"Q":0.46},
{"x":1925,"P":0.531,"a":0.55,"b":0.56,"c":0.62,"d":0.60,"e":0.57,"C":0.33,"Q":0.31},
{"x":1975,"P":0.539,"a":0.57,"b":0.59,"c":0.60,"d":0.61,"e":0.52,"C":0.39,"Q":0.37},
{"x":2025,"P":0.547,"a":0.57,"b":0.58,"c":0.63,"d":0.69,"e":0.55,"C":0.37,"Q":0.35},
{"x":2075,"P":0.555,"a":0.58,"b":0.60,"c":0.60,"d":0.71,"e":0.58,"C":0.36,"Q":0.34},
{"x":2125,"P":0.562,"a":0.57,"b":0.59,"c":0.63,"d":0.63,"e":0.70,"C":0.52,"Q":0.50},
{"x":2175,"P":0.568,"a":0.61,"b":0.62,"c":0.62,"d":0.63,"e":0.71,"C":0.42,"Q":0.40},
{"x":2225,"P":0.574,"a":0.59,"b":0.63,"c":0.66,"d":0.65,"e":0.59,"C":0.53,"Q":0.51},
{"x":2275,"P":0.581,"a":0.60,"b":0.61,"c":0.64,"d":0.73,"e":0.71,"C":0.40,"Q":0.38},
{"x":2325,"P":0.587,"a":0.59,"b":0.64,"c":0.66,"d":0.74,"e":0.63,"C":0.39,"Q":0.37},
{"x":2375,"P":0.594,"a":0.63,"b":0.63,"c":0.65,"d":0.67,"e":0.73,"C":0.55,"Q":0.53},
{"x":2425,"P":0.60,"a":0.61,"b":0.66,"c":0.68,"d":0.66,"e":0.64,"C":0.45,"Q":0.43},
{"x":2475,"P":0.607,"a":0.64,"b":0.64,"c":0.67,"d":0.76,"e":0.63,"C":0.43,"Q":0.41},
{"x":2525,"P":0.613,"a":0.63,"b":0.66,"c":0.69,"d":0.69,"e":0.66,"C":0.41,"Q":0.39},
{"x":2575,"P":0.618,"a":0.64,"b":0.66,"c":0.66,"d":0.69,"e":0.76,"C":0.58,"Q":0.56},
{"x":2625,"P":0.624,"a":0.63,"b":0.68,"c":0.71,"d":0.69,"e":0.80,"C":0.58,"Q":0.56},
{"x":2675,"P":0.63,"a":0.66,"b":0.65,"c":0.69,"d":0.78,"e":0.78,"C":0.48,"Q":0.46},
{"x":2725,"P":0.635,"a":0.67,"b":0.68,"c":0.71,"d":0.80,"e":0.66,"C":0.60,"Q":0.58},
{"x":2775,"P":0.641,"a":0.65,"b":0.68,"c":0.68,"d":0.71,"e":0.79,"C":0.46,"Q":0.44},
{"x":2825,"P":0.646,"a":0.67,"b":0.70,"c":0.72,"d":0.80,"e":0.68,"C":0.45,"Q":0.43},
{"x":2875,"P":0.652,"a":0.67,"b":0.69,"c":0.74,"d":0.80,"e":0.70,"C":0.50,"Q":0.48},
{"x":2925,"P":0.657,"a":0.69,"b":0.70,"c":0.72,"d":0.72,"e":0.82,"C":0.48,"Q":0.46},
{"x":2975,"P":0.663,"a":0.67,"b":0.69,"c":0.74,"d":0.81,"e":0.70,"C":0.62,"Q":0.60},
{"x":3025,"P":0.668,"a":0.70,"b":0.72,"c":0.72,"d":0.75,"e":0.71,"C":0.63,"Q":0.61},
{"x":3075,"P":0.674,"a":0.69,"b":0.71,"c":0.76,"d":0.82,"e":0.81,"C":0.47,"Q":0.45},
{"x":3125,"P":0.679,"a":0.70,"b":0.73,"c":0.74,"d":0.75,"e":0.84,"C":0.53,"Q":0.51},
{"x":3175,"P":0.685,"a":0.69,"b":0.71,"c":0.77,"d":0.75,"e":0.71,"C":0.64,"Q":0.62},
{"x":3225,"P":0.69,"a":0.71,"b":0.74,"c":0.73,"d":0.83,"e":0.83,"C":0.51,"Q":0.49},
{"x":3275,"P":0.696,"a":0.71,"b":0.73,"c":0.76,"d":0.86,"e":0.73,"C":0.50,"Q":0.48},
{"x":3325,"P":0.701,"a":0.73,"b":0.75,"c":0.78,"d":0.85,"e":0.85,"C":0.66,"Q":0.64},
{"x":3375,"P":0.707,"a":0.72,"b":0.73,"c":0.75,"d":0.76,"e":0.72,"C":0.56,"Q":0.54},
{"x":3425,"P":0.712,"a":0.74,"b":0.76,"c":0.79,"d":0.79,"e":0.87,"C":0.53,"Q":0.51},
{"x":3475,"P":0.718,"a":0.73,"b":0.78,"c":0.80,"d":0.79,"e":0.85,"C":0.52,"Q":0.50},
{"x":3525,"P":0.723,"a":0.75,"b":0.75,"c":0.78,"d":0.80,"e":0.87,"C":0.57,"Q":0.55},
{"x":3575,"P":0.729,"a":0.74,"b":0.77,"c":0.80,"d":0.89,"e":0.89,"C":0.69,"Q":0.67},
{"x":3625,"P":0.734,"a":0.76,"b":0.76,"c":0.79,"d":0.80,"e":0.74,"C":0.69,"Q":0.67},
{"x":3675,"P":0.74,"a":0.75,"b":0.80,"c":0.83,"d":0.81,"e":0.88,"C":0.70,"Q":0.68},
{"x":3725,"P":0.746,"a":0.78,"b":0.78,"c":0.80,"d":0.81,"e":0.92,"C":0.71,"Q":0.69},
{"x":3775,"P":0.752,"a":0.76,"b":0.80,"c":0.82,"d":0.89,"e":0.78,"C":0.57,"Q":0.55},
{"x":3825,"P":0.759,"a":0.78,"b":0.79,"c":0.80,"d":0.92,"e":0.92,"C":0.56,"Q":0.54},
{"x":3875,"P":0.766,"a":0.78,"b":0.80,"c":0.84,"d":0.83,"e":0.81,"C":0.73,"Q":0.71},
{"x":3925,"P":0.773,"a":0.80,"b":0.82,"c":0.85,"d":0.92,"e":0.80,"C":0.73,"Q":0.71},
{"x":3975,"P":0.782,"a":0.81,"b":0.80,"c":0.84,"d":0.84,"e":0.82,"C":0.63,"Q":0.61},
{"x":4025,"P":0.791,"a":0.80,"b":0.84,"c":0.87,"d":0.86,"e":0.92,"C":0.61,"Q":0.59},
{"x":4075,"P":0.802,"a":0.83,"b":0.86,"c":0.86,"d":0.93,"e":0.94,"C":0.76,"Q":0.74},
{"x":4125,"P":0.815,"a":0.83,"b":0.85,"c":0.86,"d":0.90,"e":0.84,"C":0.78,"Q":0.76},
{"x":4175,"P":0.83,"a":0.86,"b":0.86,"c":0.91,"d":0.94,"e":0.95,"C":0.63,"Q":0.61},
{"x":4225,"P":0.849,"a":0.87,"b":0.87,"c":0.90,"d":0.91,"e":0.93,"C":0.70,"Q":0.68},
{"x":4275,"P":0.875,"a":0.90,"b":0.92,"c":0.93,"d":0.93,"e":0.90,"C":0.84,"Q":0.82}
]
},
"hconcat": [
{
  "width": 479, "height": 295,
  "encoding": {
    "x": {"field": "x", "type": "quantitative", "scale": {"domain": [0, 4500], "nice": false, "zero": false},
          "axis": {"values": [0, 1000, 2000, 3000, 4000], "format": ",d", "title": "Test samples sorted regarding exact variance"}},
    "y": {"field": "v", "type": "quantitative", "scale": {"domain": [0.3, 1], "nice": false, "zero": false},
          "axis": {"values": [0.4, 0.6, 0.8, 1], "labelExpr": "datum.value == 1 ? '1' : format(datum.value, '.1f')", "title": "Predictive variance σ²⁎"}},
    "color": {"field": "s", "type": "nominal",
              "scale": {"domain": ["Q", "C", "e", "d", "c", "b", "a", "P"], "range": ["#2e8b57", "#ff4500", "#0b0b52", "#ef8a12", "#4670c6", "#ff1493", "#98f898", "#4b0092"]},
              "legend": {"labelExpr": "datum.label == 'Q' ? 'q-CAPU' : datum.label == 'C' ? 'CAPU' : datum.label == 'e' ? 'FAPU (k = 1)' : datum.label == 'd' ? 'FAPU (k = 2)' : datum.label == 'c' ? 'FAPU (k = 4)' : datum.label == 'b' ? 'FAPU (k = 8)' : datum.label == 'a' ? 'FAPU (k = 16)' : 'PUP'"}}
  },
  "layer": [
    {"data": {"name": "K"}, "mark": {"type": "line", "strokeWidth": 3}},
    {"data": {"name": "L"}, "transform": [{"fold": ["e", "d", "c", "b", "a"], "as": ["s", "v"]}],
     "mark": {"type": "line", "strokeWidth": 3.3, "strokeJoin": "miter", "strokeMiterLimit": 2.5}},
    {"data": {"name": "L"}, "transform": [{"fold": ["P"], "as": ["s", "v"]}],
     "mark": {"type": "line", "strokeWidth": 2.8}},
    {"data": {"values": [{"x": 1015, "v": 0.948, "x2": 1077, "v2": 0.982}]}, "mark": {"type": "rule", "strokeWidth": 1},
     "encoding": {"x2": {"field": "x2"}, "y2": {"field": "v2"}, "color": {"value": "black"}}},
    {"data": {"values": [{"x": 1080, "v": 0.985}]}, "mark": {"type": "point", "shape": "triangle-up", "filled": true, "size": 28, "angle": 27, "opacity": 1},
     "encoding": {"color": {"value": "black"}}},
    {"data": {"values": [{"x": 986, "v": 0.91, "t": "q-CAPU, CAPU"}]}, "mark": {"type": "text", "font": "DejaVu Serif", "fontSize": 18.5, "baseline": "alphabetic"},
     "encoding": {"text": {"field": "t"}, "color": {"value": "#222222"}}}
  ]
},
{
  "width": 474, "height": 294,
  "data": {"name": "R"},
  "encoding": {
    "x": {"field": "x", "type": "quantitative", "scale": {"domain": [0, 4450], "nice": false, "zero": false},
          "axis": {"values": [0, 1000, 2000, 3000, 4000], "format": ",d", "title": "Test samples sorted regarding exact variance"}},
    "y": {"field": "v", "type": "quantitative", "scale": {"domain": [0, 1], "nice": false},
          "axis": {"values": [0, 0.2, 0.4, 0.6, 0.8, 1], "labelExpr": "datum.value == 1 ? '1' : datum.value == 0 ? '0' : format(datum.value, '.1f')", "title": "Normalized predictive variance σ²⁎"}},
    "color": {"field": "s", "type": "nominal",
              "scale": {"domain": ["Q", "C", "e", "d", "c", "b", "a", "P"], "range": ["#2e8b57", "#ff4500", "#0b0b52", "#ef8a12", "#4670c6", "#ff1493", "#98f898", "#4b0092"]},
              "legend": {"labelExpr": "datum.label == 'Q' ? 'q-CAPU' : datum.label == 'C' ? 'CAPU' : datum.label == 'e' ? 'FAPU (k = 1)' : datum.label == 'd' ? 'FAPU (k = 2)' : datum.label == 'c' ? 'FAPU (k = 4)' : datum.label == 'b' ? 'FAPU (k = 8)' : datum.label == 'a' ? 'FAPU (k = 16)' : 'PUP'"}}
  },
  "layer": [
    {"transform": [{"fold": ["Q", "C", "e", "d", "c", "b", "a"], "as": ["s", "v"]}],
     "mark": {"type": "line", "strokeWidth": 3.3, "strokeJoin": "miter", "strokeMiterLimit": 2.5}},
    {"transform": [{"fold": ["P"], "as": ["s", "v"]}],
     "mark": {"type": "line", "strokeWidth": 2.8}}
  ]
}
]
}
